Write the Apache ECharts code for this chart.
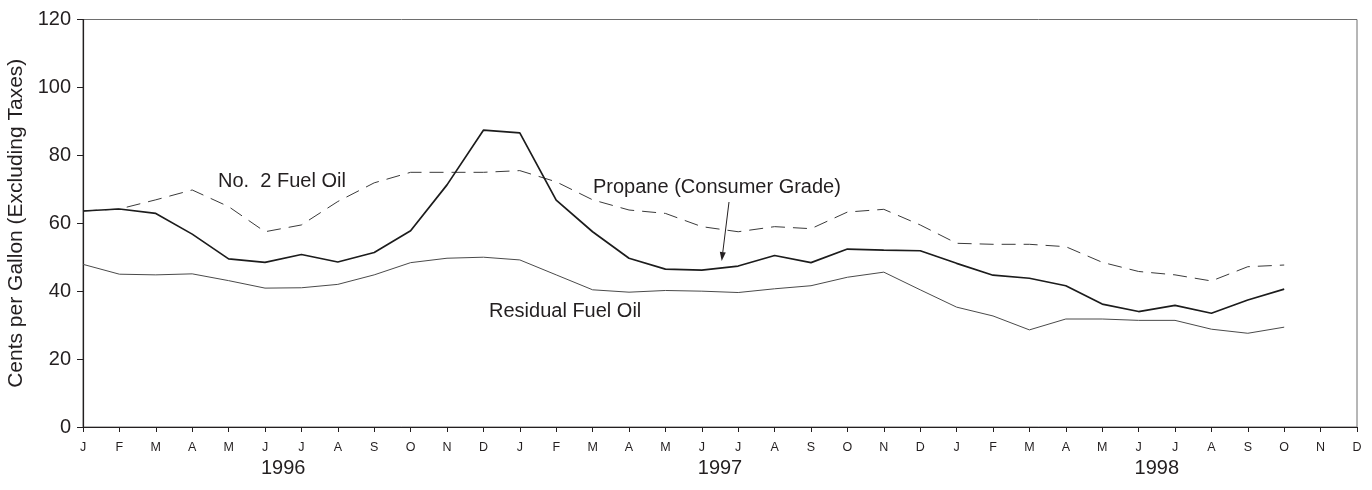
<!DOCTYPE html>
<html>
<head>
<meta charset="utf-8">
<script src="https://cdn.jsdelivr.net/npm/echarts@6/dist/echarts.min.js"></script>
<style>
  html, body { margin: 0; padding: 0; background: #fff; }
  #chart { width: 1372px; height: 490px; }
</style>
</head>
<body>
<div id="chart"></div>
<script>
// Month tick labels, Jan 1996 through Dec 1998
const months = ['J','F','M','A','M','J','J','A','S','O','N','D',
                'J','F','M','A','M','J','J','A','S','O','N','D',
                'J','F','M','A','M','J','J','A','S','O','N','D'];
const years = ['1996', '1997', '1998'];

// Residential prices, cents per gallon excluding taxes
const propane = [63.6, 64.2, 62.9, 56.8, 49.5, 48.5, 50.8, 48.6, 51.4, 57.8, 71.3, 87.4,
                 86.6, 66.8, 57.5, 49.7, 46.5, 46.2, 47.4, 50.5, 48.4, 52.4, 52.1, 51.9,
                 48.2, 44.7, 43.8, 41.6, 36.2, 34.0, 35.8, 33.5, 37.4, 40.6, null, null];
const fuelOil2 = [63.6, 64.2, 66.9, 69.8, 64.9, 57.5, 59.5, 66.4, 71.9, 75.0, 75.0, 75.0,
                  75.5, 72.2, 66.9, 63.9, 62.9, 59.0, 57.5, 59.0, 58.4, 63.3, 64.1, 59.5,
                  54.1, 53.8, 53.8, 53.1, 48.5, 45.8, 44.8, 43.0, 47.2, 47.7, null, null];
const residual = [47.9, 45.0, 44.8, 45.1, 43.1, 40.9, 41.0, 42.0, 44.8, 48.4, 49.7, 50.0,
                  49.2, 44.8, 40.4, 39.7, 40.2, 40.0, 39.6, 40.7, 41.6, 44.1, 45.6, 40.4,
                  35.3, 32.7, 28.6, 31.8, 31.8, 31.4, 31.4, 28.8, 27.6, 29.4, null, null];

const FONT = "'Liberation Sans', Arial, sans-serif";
const INK = '#231f20';

const chart = echarts.init(document.getElementById('chart'), null, { renderer: 'canvas' });

chart.setOption({
  animation: false,
  backgroundColor: '#fff',
  grid: {
    left: 83, right: 15, top: 19.5, bottom: 63,
    containLabel: false,
    outerBoundsMode: 'none',
    show: true, borderColor: '#6e6e6e', borderWidth: 1
  },
  xAxis: {
    type: 'category',
    data: months,
    boundaryGap: false,
    axisLine: { lineStyle: { color: INK, width: 1.2 } },
    axisTick: { show: true, length: 5, lineStyle: { color: INK } },
    axisLabel: { color: INK, fontFamily: FONT, fontSize: 12.5, margin: 14, interval: 0 },
    splitLine: { show: false }
  },
  yAxis: {
    type: 'value',
    min: 0, max: 120, interval: 20,
    name: 'Cents per Gallon (Excluding Taxes)',
    nameLocation: 'middle',
    nameGap: 54,
    nameRotate: 90,
    nameTextStyle: { color: INK, fontFamily: FONT, fontSize: 21 },
    axisLine: { show: true, lineStyle: { color: INK, width: 1.2 } },
    axisTick: { show: true, length: 6, lineStyle: { color: INK } },
    axisLabel: { color: INK, fontFamily: FONT, fontSize: 20, margin: 12 },
    splitLine: { show: false }
  },
  series: [
    {
      name: 'Propane (Consumer Grade)',
      type: 'line', data: propane, symbol: 'none', connectNulls: false,
      lineStyle: { color: '#1c1c1c', width: 1.7 }, z: 4
    },
    {
      name: 'No. 2 Fuel Oil',
      type: 'line', data: fuelOil2, symbol: 'none',
      lineStyle: { color: '#3a3a3a', width: 1, type: [14, 8] }, z: 3
    },
    {
      name: 'Residual Fuel Oil',
      type: 'line', data: residual, symbol: 'none',
      lineStyle: { color: '#4a4a4a', width: 1 }, z: 2
    }
  ]
});

// Year captions centred under each run of twelve months
const yearY = 468;
const yearGraphics = years.map((y, i) => {
  const a = chart.convertToPixel({ xAxisIndex: 0 }, i * 12 + 5);
  const b = chart.convertToPixel({ xAxisIndex: 0 }, i * 12 + 6);
  return {
    type: 'text',
    x: (a + b) / 2, y: yearY,
    style: { text: y, fill: INK, font: '20px ' + FONT, textAlign: 'center', textVerticalAlign: 'middle' }
  };
});

// Series captions and the pointer to the propane line
const tip = [721.7, 261];
const tail = [729, 202];
const dx = tip[0] - tail[0], dy = tip[1] - tail[1];
const len = Math.hypot(dx, dy);
const ux = dx / len, uy = dy / len;
const bx = tip[0] - ux * 9, by = tip[1] - uy * 9;
const px = -uy * 3, py = ux * 3;

chart.setOption({
  graphic: yearGraphics.concat([
    {
      type: 'text', x: 218, y: 181,
      style: { text: 'No.  2 Fuel Oil', fill: INK, font: '20px ' + FONT, textVerticalAlign: 'middle' }
    },
    {
      type: 'text', x: 593, y: 187,
      style: { text: 'Propane (Consumer Grade)', fill: INK, font: '20px ' + FONT, textVerticalAlign: 'middle' }
    },
    {
      type: 'text', x: 489, y: 311,
      style: { text: 'Residual Fuel Oil', fill: INK, font: '20px ' + FONT, textVerticalAlign: 'middle' }
    },
    {
      type: 'line',
      shape: { x1: tail[0], y1: tail[1], x2: bx, y2: by },
      style: { stroke: INK, lineWidth: 1 }
    },
    {
      type: 'polygon',
      shape: { points: [tip, [bx + px, by + py], [bx - px, by - py]] },
      style: { fill: INK }
    }
  ])
});
</script>
</body>
</html>
